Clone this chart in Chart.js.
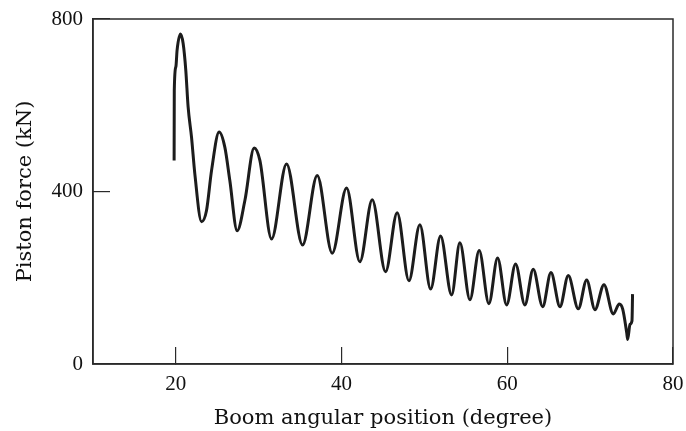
<!DOCTYPE html>
<html>
<head>
<meta charset="utf-8">
<script src="https://cdn.jsdelivr.net/npm/chart.js@4.4.1/dist/chart.umd.min.js"></script>
<style>
  html, body { margin: 0; padding: 0; background: #ffffff; }
  #wrap { width: 686px; height: 431px; position: relative; }
</style>
</head>
<body>
<div id="wrap"><canvas id="c"></canvas></div>
<script>
// Boom angular position (degree)
const angle = [19.79, 19.81, 20.0, 20.15, 20.56, 20.88, 21.2, 21.48, 21.89, 22.29,
  23.10, 23.70, 24.31, 25.22, 25.91, 26.51, 27.40, 28.33, 29.45, 30.14,
  31.55, 33.36, 35.29, 37.06, 38.87, 40.60, 42.21, 43.70, 45.31, 46.71,
  48.13, 49.45, 50.75, 51.95, 53.28, 54.28, 55.49, 56.61, 57.78, 58.83,
  59.92, 61.0, 62.12, 63.13, 64.27, 65.27, 66.36, 67.36, 68.57, 69.58,
  70.58, 71.67, 72.79, 73.52, 73.93, 74.41, 74.53, 74.81, 75.05, 75.12];
// Piston force (kN)
const force = [472, 635, 689, 728, 765, 743, 681, 596, 526, 441,
  330, 356, 449, 538, 503, 426, 309, 379, 501, 472,
  290, 464, 276, 437, 257, 408, 237, 381, 214, 351,
  193, 323, 174, 297, 160, 281, 149, 263, 140, 246,
  137, 232, 137, 220, 133, 212, 133, 205, 128, 195,
  126, 184, 116, 139, 127, 73, 57, 92, 100, 162];
const xTicks = [20, 40, 60, 80];
const yTicks = [0, 400, 800];

const tickFont = { family: '"Liberation Serif", serif', size: 21 };
const titleFont = { family: '"DejaVu Serif", serif', size: 21 };

const framePlugin = {
  id: 'frame',
  afterDraw(chart) {
    const { ctx, chartArea: a } = chart;
    ctx.save();
    ctx.strokeStyle = '#2a2a2a';
    ctx.lineWidth = 1.5;
    ctx.strokeRect(a.left, a.top, a.right - a.left, a.bottom - a.top);
    ctx.restore();
  }
};

new Chart(document.getElementById('c'), {
  type: 'line',
  data: {
    datasets: [{
      data: angle.map((x, i) => ({ x: x, y: force[i] })),
      borderColor: '#1c1c1c',
      borderWidth: 3,
      pointRadius: 0,
      fill: false,
      cubicInterpolationMode: 'monotone'
    }]
  },
  options: {
    responsive: true,
    maintainAspectRatio: false,
    animation: false,
    layout: { padding: { top: 19, right: 13, left: 0, bottom: 0 } },
    plugins: { legend: { display: false }, tooltip: { enabled: false } },
    scales: {
      x: {
        type: 'linear',
        min: 10, max: 80,
        afterBuildTicks: s => { s.ticks = xTicks.map(v => ({ value: v })); },
        afterFit: s => { s.height = 67; s.paddingLeft = 0; s.paddingRight = 0; },
        grid: { drawOnChartArea: false, tickLength: -17, color: '#2a2a2a', lineWidth: 1.2 },
        border: { color: '#2a2a2a', width: 1.5 },
        ticks: { font: tickFont, color: '#111', padding: 25, maxRotation: 0 },
        title: { display: true, text: 'Boom angular position (degree)', font: titleFont, color: '#111', padding: 0 }
      },
      y: {
        type: 'linear',
        min: 0, max: 800,
        afterBuildTicks: s => { s.ticks = yTicks.map(v => ({ value: v })); },
        afterFit: s => { s.width = 93; s.paddingTop = 0; s.paddingBottom = 0; },
        grid: { drawOnChartArea: false, tickLength: -17, color: '#2a2a2a', lineWidth: 1.2 },
        border: { color: '#2a2a2a', width: 1.5 },
        ticks: { font: tickFont, color: '#111', padding: 27 },
        title: { display: true, text: 'Piston force (kN)', font: titleFont, color: '#111', padding: 13 }
      }
    }
  },
  plugins: [framePlugin]
});
</script>
</body>
</html>
